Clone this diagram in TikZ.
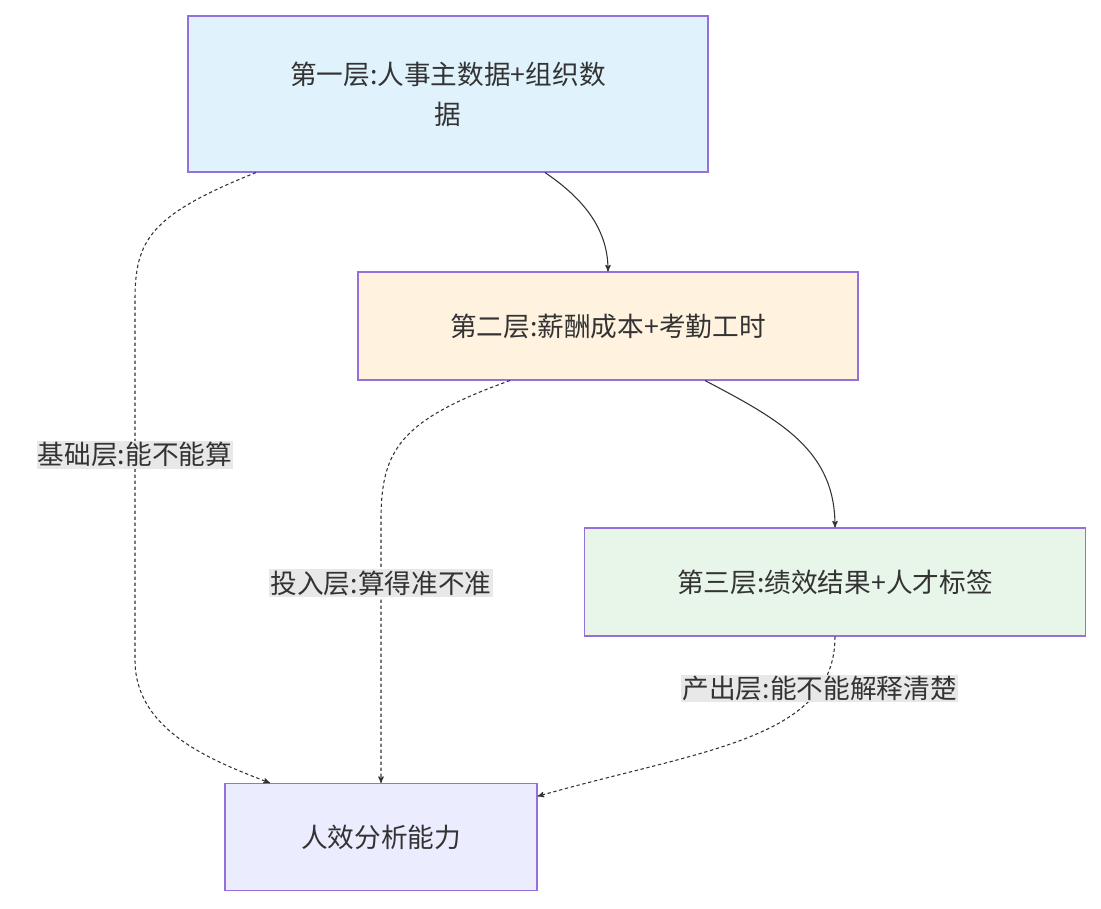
\documentclass[tikz,border=0pt]{standalone}
\usepackage{fontspec}
\setmainfont{Noto Sans CJK SC}
\usetikzlibrary{
	arrows,
	positioning
}
\definecolor{txt}{HTML}{333333}
\definecolor{rim}{HTML}{9370DB}
\definecolor{firstfill}{HTML}{E0F3FC}
\definecolor{secondfill}{HTML}{FFF3E0}
\definecolor{thirdfill}{HTML}{E8F5E9}
\definecolor{outfill}{HTML}{ECECFF}
\definecolor{labelfill}{HTML}{E8E8E8}
\tikzset{
	>=stealth',
	layernode/.style={draw=rim, thick, text=txt, align=center, font=\fontsize{20}{30}\selectfont},
	flowedge/.style={->, thick, draw=txt},
	linkedge/.style={->, thick, draw=txt, dash pattern=on 2.5pt off 2pt},
	edgelabel/.style={fill=labelfill, text=txt, inner sep=1pt, font=\fontsize{20}{24}\selectfont}
}

\begin{document}
\begin{tikzpicture}[x=0.75pt, y=-0.75pt]
	\useasboundingbox (0,0) rectangle (1101,908);

	\node[layernode, fill=firstfill, minimum width=390pt, minimum height=117pt] (l1) at (448,94) {第一层:人事主数据+组织数\\据};
	\node[layernode, fill=secondfill, minimum width=375pt, minimum height=81pt] (l2) at (608,326) {第二层:薪酬成本+考勤工时};
	\node[layernode, fill=thirdfill, minimum width=375.75pt, minimum height=81pt] (l3) at (835,582) {第三层:绩效结果+人才标签};
	\node[layernode, fill=outfill, minimum width=234pt, minimum height=80.25pt] (out) at (381,837) {人效分析能力};

	% solid chain
	\draw[flowedge] ([xshift=72.75pt]l1.south) .. controls (578,195) and (608,225) .. (l2.north);
	\draw[flowedge] ([xshift=72.75pt]l2.south) .. controls (780,420) and (835,450) .. (l3.north);

	% dashed links into the result
	\draw[linkedge] ([xshift=-144pt]l1.south) .. controls (150,215) and (135,240) .. (135,300)
		-- (135,660) node[edgelabel, pos=0.43] {基础层:能不能算}
		.. controls (135,730) and (210,760) .. ([xshift=-83.25pt]out.north);
	\draw[linkedge] ([xshift=-73.5pt]l2.south) .. controls (400,420) and (381,450) .. (381,520)
		-- (out.north) node[edgelabel, pos=0.24] {投入层:算得准不准};
	\draw[linkedge] (l3.south) .. controls (835,740) and (700,750) .. ([yshift=-10pt]out.north east)
		node[edgelabel, pos=0.2] {产出层:能不能解释清楚};
\end{tikzpicture}
\end{document}
